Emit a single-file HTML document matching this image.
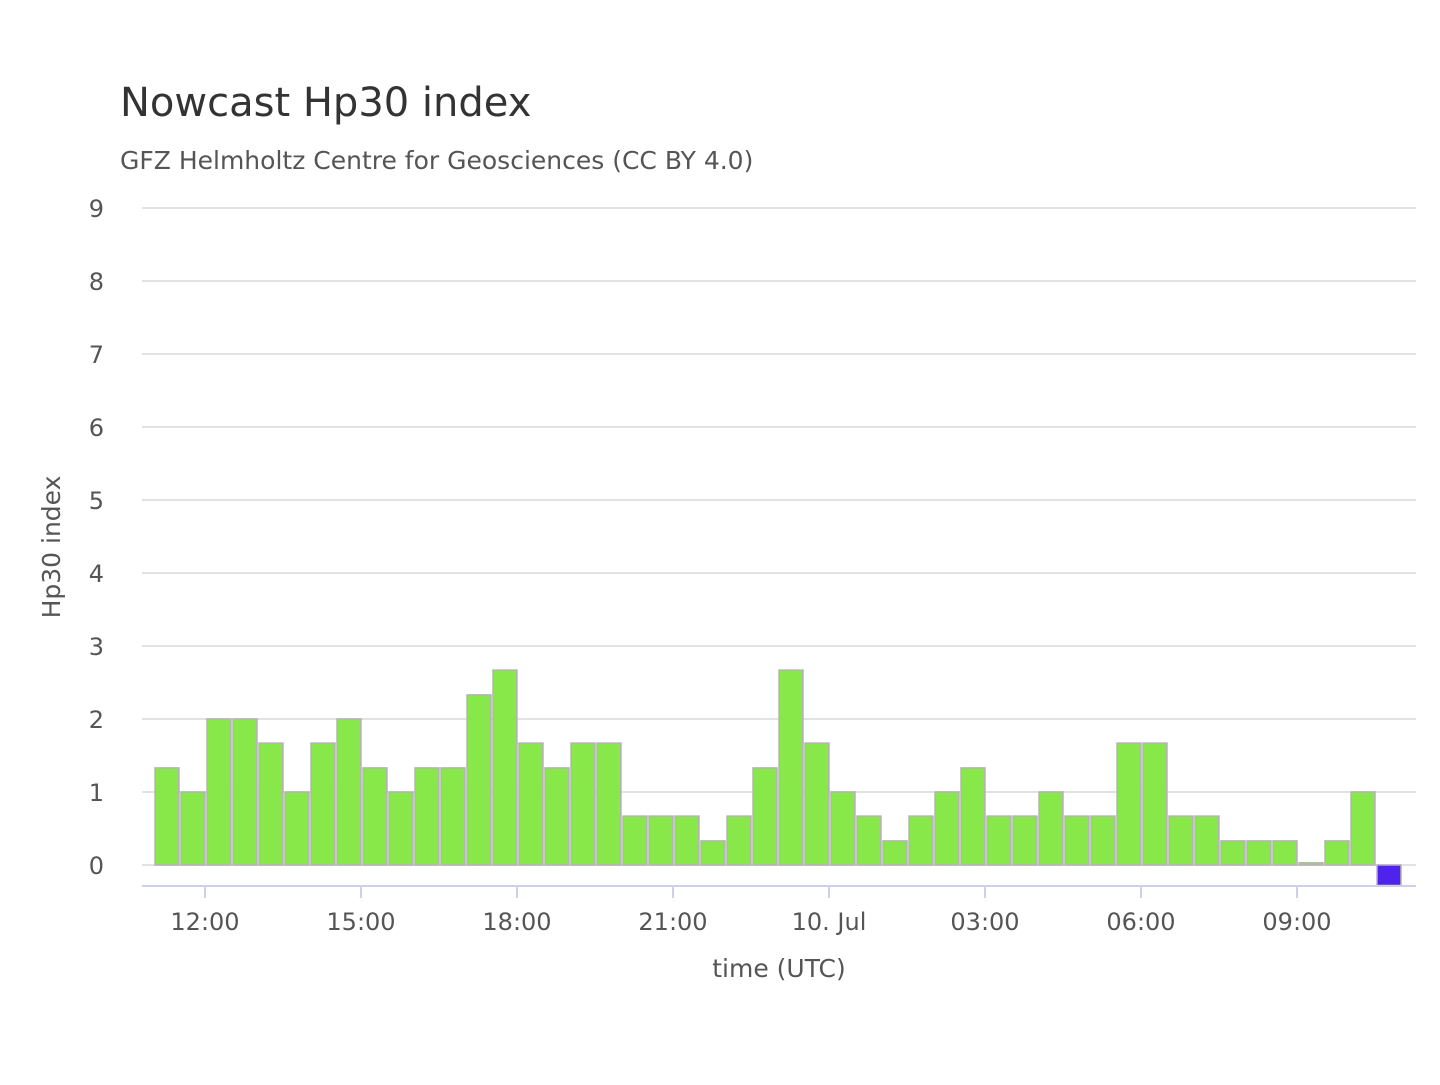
<!DOCTYPE html>
<html><head><meta charset="utf-8"><style>
body{margin:0;background:#fff;width:1440px;height:1080px;overflow:hidden;font-family:"Liberation Sans","DejaVu Sans",sans-serif}
</style></head><body>
<svg id="chart" width="1440" height="1080" xmlns="http://www.w3.org/2000/svg" font-family="'DejaVu Sans','Liberation Sans',sans-serif">
<text x="120" y="116" font-size="40" fill="#333">Nowcast Hp30 index</text>
<text x="120" y="169" font-size="25" fill="#555">GFZ Helmholtz Centre for Geosciences (CC BY 4.0)</text>
<text transform="translate(60,547) rotate(-90)" text-anchor="middle" font-size="25" fill="#555">Hp30 index</text>
<text x="779" y="977" text-anchor="middle" font-size="25" fill="#555">time (UTC)</text>
<g id="grid"></g><g id="bars"></g><g id="xaxis"></g>
</svg>
<script>
const values=[1.33,1,2,2,1.67,1,1.67,2,1.33,1,1.33,1.33,2.33,2.67,1.67,1.33,1.67,1.67,0.67,0.67,0.67,0.33,0.67,1.33,2.67,1.67,1,0.67,0.33,0.67,1,1.33,0.67,0.67,1,0.67,0.67,1.67,1.67,0.67,0.67,0.33,0.33,0.33,0.03,0.33,1,-0.28];
const yTicks=[0,1,2,3,4,5,6,7,8,9];
const xTickLabels=["12:00","15:00","18:00","21:00","10. Jul","03:00","06:00","09:00"];
const xTickSlots=[2,8,14,20,26,32,38,44];
const NS="http://www.w3.org/2000/svg";
const y=v=>865-v*73;
const x=i=>154+i*26;
function mk(t,a,p){const e=document.createElementNS(NS,t);for(const k in a)e.setAttribute(k,a[k]);p.appendChild(e);return e;}
const grid=document.getElementById('grid'),bars=document.getElementById('bars'),xa=document.getElementById('xaxis');
yTicks.forEach(v=>{
 const l=mk('line',{x1:142,x2:1416,y1:y(v),y2:y(v),stroke:'#e2e2e2','stroke-width':2},grid);
 
 
 const t=mk('text',{x:104,y:y(v)+9,'text-anchor':'end','font-size':24,fill:'#555'},grid);
 t.textContent=v;
 
 
});
values.forEach((v,i)=>{
 const last=i===values.length-1;
 const top=Math.min(y(v),y(0)),h=Math.max(Math.abs(y(v)-y(0)),2);
 const r=mk('rect',{x:x(i)+1,y:top,width:24,height:h,fill:last?'#5022ee':'#88e84a',stroke:'#b8b0bc','stroke-width':1.5},bars);
 
 
});
const ax=mk('line',{x1:142,x2:1416,y1:886,y2:886,stroke:'#ccd0ee','stroke-width':2},xa);


xTickLabels.forEach((lab,k)=>{
 const px=x(xTickSlots[k])-1;
 const tk=mk('line',{x1:px,x2:px,y1:886,y2:898,stroke:'#ccd0ee','stroke-width':2},xa);
 
 
 const t=mk('text',{x:px,y:930,'text-anchor':'middle','font-size':24,fill:'#555'},xa);
 t.textContent=lab;
 
 
});
</script>
</body></html>
